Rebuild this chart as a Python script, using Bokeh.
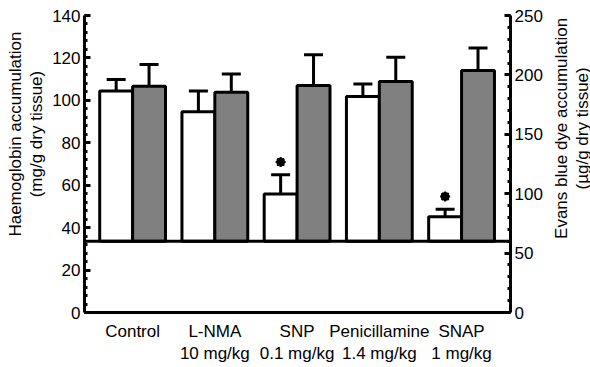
import math
from bokeh.plotting import figure
from bokeh.layouts import row
from bokeh.models import (Range1d, LinearAxis, FixedTicker, Whisker,
                          ColumnDataSource, TeeHead, Span)
from bokeh.core.properties import value
from bokeh.embed import file_html
from bokeh.resources import INLINE

# ---- data ----
categories = ["Control", "L-NMA", "SNP", "Penicillamine", "SNAP"]
doses = ["", "10 mg/kg", "0.1 mg/kg", "1.4 mg/kg", "1 mg/kg"]
hb_mean = [104.4, 94.6, 55.8, 101.8, 45.1]      # left axis (mg/g)
hb_err = [5.4, 9.8, 9.1, 5.9, 3.6]
eb_mean = [190.4, 185.3, 191.0, 194.4, 203.6]   # right axis (ug/g)
eb_err = [18.3, 15.5, 26.0, 20.4, 19.1]
significant = [False, False, True, False, True]
left_ticks = [0, 20, 40, 60, 80, 100, 120, 140]
right_ticks = [0, 50, 100, 150, 200, 250]
eb_baseline = 60
left_title = ["Haemoglobin accumulation", "(mg/g dry tissue)"]
right_title = ["Evans blue dye accumulation", "(µg/g dry tissue)"]

LEFT_MAX, RIGHT_MAX = 140, 250
hb_baseline = eb_baseline * LEFT_MAX / RIGHT_MAX
FONT = "Liberation Sans"
H = 367
LW, RW = 46, 42          # side title panels
MW = 590 - LW - RW       # main figure

idx = list(range(len(categories)))
bw = 0.4
white_x = [i - bw / 2 for i in idx]
gray_x = [i + bw / 2 for i in idx]

src = ColumnDataSource(dict(
    wx=white_x, gx=gray_x, hb=hb_mean, eb=eb_mean,
    hb_top=[m + e for m, e in zip(hb_mean, hb_err)],
    eb_top=[m + e for m, e in zip(eb_mean, eb_err)],
))
sig_x = [white_x[i] for i in idx if significant[i]]
sig_y = [hb_mean[i] + hb_err[i] + 6 for i in idx if significant[i]]

p = figure(width=MW, height=H, output_backend="svg", toolbar_location=None,
           x_range=Range1d(-0.585, 4.595), y_range=Range1d(0, LEFT_MAX),
           min_border_left=84 - LW, min_border_right=590 - RW - 510, min_border_top=15,
           min_border_bottom=55, y_axis_location=None, x_axis_location=None)
p.outline_line_color = None
p.xgrid.visible = False
p.ygrid.visible = False
p.extra_y_ranges = {"r": Range1d(0, RIGHT_MAX)}

# error bars (upward only)
for xcol, lo, hi, rng in (("wx", "hb", "hb_top", "default"), ("gx", "eb", "eb_top", "r")):
    w = Whisker(source=src, base=xcol, lower=lo, upper=hi, dimension="height",
                line_width=3, line_color="black", y_range_name=rng,
                upper_head=TeeHead(size=19, line_width=3, line_color="black"),
                lower_head=None)
    p.add_layout(w)

p.vbar(x="wx", top="hb", bottom=hb_baseline, width=bw, source=src,
       fill_color="white", line_color="black", line_width=3)
p.vbar(x="gx", top="eb", bottom=eb_baseline, width=bw, source=src,
       fill_color="#808080", line_color="black", line_width=3,
       y_range_name="r")

p.add_layout(Span(location=eb_baseline, dimension="width", line_width=3,
                  line_color="black", y_range_name="r"))

p.scatter(sig_x, sig_y, marker="circle", size=8, fill_color="black", line_color="black")
p.scatter(sig_x, sig_y, marker="asterisk", size=10, line_color="black", line_width=2)

def style(ax):
    ax.axis_line_width = 3
    ax.axis_line_color = "black"
    ax.major_tick_line_width = 3
    ax.minor_tick_line_width = 3
    ax.major_label_text_font = FONT
    ax.major_label_text_font_size = "17px"
    ax.major_label_text_color = "black"

yl = LinearAxis(ticker=FixedTicker(ticks=left_ticks, minor_ticks=list(range(0, LEFT_MAX + 1, 4))))
style(yl)
yl.major_tick_in, yl.major_tick_out = 6, 0
yl.minor_tick_in, yl.minor_tick_out = 3, 0
yl.major_label_standoff = 4
p.add_layout(yl, "left")

yr = LinearAxis(y_range_name="r",
                ticker=FixedTicker(ticks=right_ticks, minor_ticks=list(range(0, RIGHT_MAX + 1, 10))))
style(yr)
yr.major_tick_in, yr.major_tick_out = 6, 0
yr.minor_tick_in, yr.minor_tick_out = 3, 0
yr.major_label_standoff = 4
p.add_layout(yr, "right")

xa = LinearAxis(ticker=FixedTicker(ticks=idx),
                major_label_overrides={i: (c + "\n" + d if d else c)
                                       for i, c, d in zip(idx, categories, doses)})
style(xa)
xa.major_tick_in, xa.major_tick_out = 0, 0
xa.minor_tick_in, xa.minor_tick_out = 0, 0
xa.major_label_standoff = 9
p.add_layout(xa, "below")

# side panels holding the two-line axis titles, reading bottom-to-top
def title_panel(width, lines, xs, yc):
    f = figure(width=width, height=H, output_backend="svg", toolbar_location=None,
               x_range=Range1d(0, width), y_range=Range1d(0, H), min_border=0,
               x_axis_location=None, y_axis_location=None)
    f.outline_line_color = None
    f.xgrid.visible = False
    f.ygrid.visible = False
    f.text(x=list(xs), y=[yc] * len(lines), text=lines, angle=math.pi / 2,
           text_align="center", text_baseline="middle", text_font=value(FONT),
           text_font_size="17px", text_color="black")
    return f

lp = title_panel(LW, left_title, (15, 36), H - 146.5)
rp = title_panel(RW, right_title, (561 - (590 - RW), 581.5 - (590 - RW)), H - 139.5)

layout = row(lp, p, rp, spacing=0)
open("out.html", "w").write(file_html(layout, INLINE))
